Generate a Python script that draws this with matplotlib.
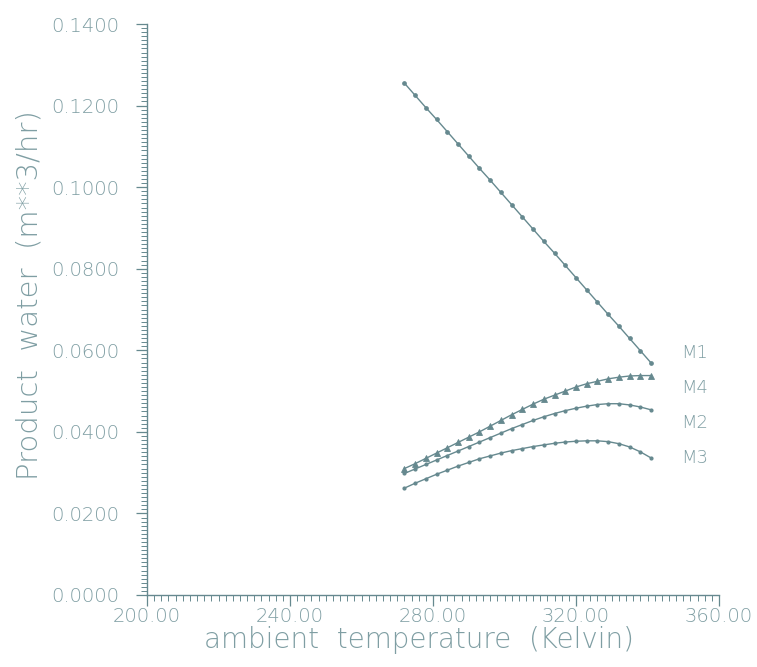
import matplotlib
matplotlib.use("Agg")
import matplotlib.pyplot as plt
from matplotlib.ticker import MultipleLocator, FormatStrFormatter

# Ambient temperature grid (Kelvin)
temperature = [272, 275, 278, 281, 284, 287, 290, 293, 296, 299, 302, 305,
               308, 311, 314, 317, 320, 323, 326, 329, 332, 335, 338, 341]

# Product water (m**3/hr) for each machine
m1 = [0.1255, 0.1225, 0.1195, 0.1166, 0.1136, 0.1106, 0.1076, 0.1046,
      0.1017, 0.0987, 0.0957, 0.0927, 0.0897, 0.0867, 0.0838, 0.0808,
      0.0778, 0.0748, 0.0718, 0.0688, 0.0659, 0.0629, 0.0599, 0.0569]
m4 = [0.0310, 0.0322, 0.0335, 0.0348, 0.0361, 0.0374, 0.0387, 0.0400,
      0.0414, 0.0428, 0.0442, 0.0455, 0.0468, 0.0480, 0.0490, 0.0500,
      0.0510, 0.0518, 0.0524, 0.0530, 0.0534, 0.0537, 0.0538, 0.0538]
m2 = [0.0298, 0.0309, 0.0320, 0.0331, 0.0342, 0.0353, 0.0364, 0.0375,
      0.0386, 0.0397, 0.0408, 0.0418, 0.0428, 0.0437, 0.0445, 0.0452,
      0.0458, 0.0463, 0.0467, 0.0469, 0.0469, 0.0466, 0.0461, 0.0454]
m3 = [0.0262, 0.0274, 0.0285, 0.0296, 0.0306, 0.0316, 0.0325, 0.0334,
      0.0341, 0.0348, 0.0354, 0.0359, 0.0364, 0.0368, 0.0372, 0.0375,
      0.0377, 0.0378, 0.0378, 0.0376, 0.0371, 0.0363, 0.0351, 0.0336]

names = ["M1", "M4", "M2", "M3"]
values = [m1, m4, m2, m3]

# Curve names are stacked in a column to the right of the curve ends
label_y = [0.0593, 0.0507, 0.0421, 0.0336]
styles = [dict(marker="o", ms=2.4),
          dict(marker="^", ms=4.2, mew=0.6),
          dict(marker="o", ms=2.0),
          dict(marker="o", ms=2.0)]

text_color = "#7f9ea3"
line_color = "#66898f"
font = ["DejaVu Sans"]

fig = plt.figure(figsize=(7.57, 6.67), dpi=100)
ax = fig.add_axes([147 / 757, 1 - 595 / 667, (719 - 147) / 757, (595 - 24) / 667])

for name, vals, ly, st in zip(names, values, label_y, styles):
    kw = dict(mfc=line_color, mec=line_color)
    kw.update(st)
    ax.plot(temperature, vals, color=line_color, lw=1.0, **kw)
    ax.text(349.5, ly, name, color=text_color, fontsize=13, family=font,
            fontweight="light", ha="left", va="center")

ax.set_xlim(200, 360)
ax.set_ylim(0, 0.14)

ax.xaxis.set_major_locator(MultipleLocator(40))
ax.xaxis.set_minor_locator(MultipleLocator(2))
ax.yaxis.set_major_locator(MultipleLocator(0.02))
ax.yaxis.set_minor_locator(MultipleLocator(0.001))
ax.xaxis.set_major_formatter(FormatStrFormatter("%.2f"))
ax.yaxis.set_major_formatter(FormatStrFormatter("%.4f"))

for side in ("top", "right"):
    ax.spines[side].set_visible(False)
for side in ("left", "bottom"):
    ax.spines[side].set_color(line_color)
    ax.spines[side].set_linewidth(1.0)

ax.tick_params(which="major", direction="out", length=8, width=0.9,
               color=line_color, labelcolor=text_color, labelsize=14)
ax.tick_params(which="minor", direction="out", length=4.5, width=0.7,
               color=line_color)
ax.tick_params(axis="y", which="major", pad=12)
ax.tick_params(axis="x", which="major", pad=1)
for lbl in ax.get_xticklabels() + ax.get_yticklabels():
    lbl.set_family(font)
    lbl.set_fontweight("light")

ax.set_xlabel("ambient  temperature  (Kelvin)", color=text_color,
              fontsize=20, family=font, fontweight="light", va="center")
ax.set_ylabel("Product  water  (m**3/hr)", color=text_color,
              fontsize=21, family=font, fontweight="light", va="center")
ax.xaxis.set_label_coords(0.475, -0.079)
ax.yaxis.set_label_coords(-0.205, 0.525)

fig.savefig("out.png", dpi=100, facecolor="white")
